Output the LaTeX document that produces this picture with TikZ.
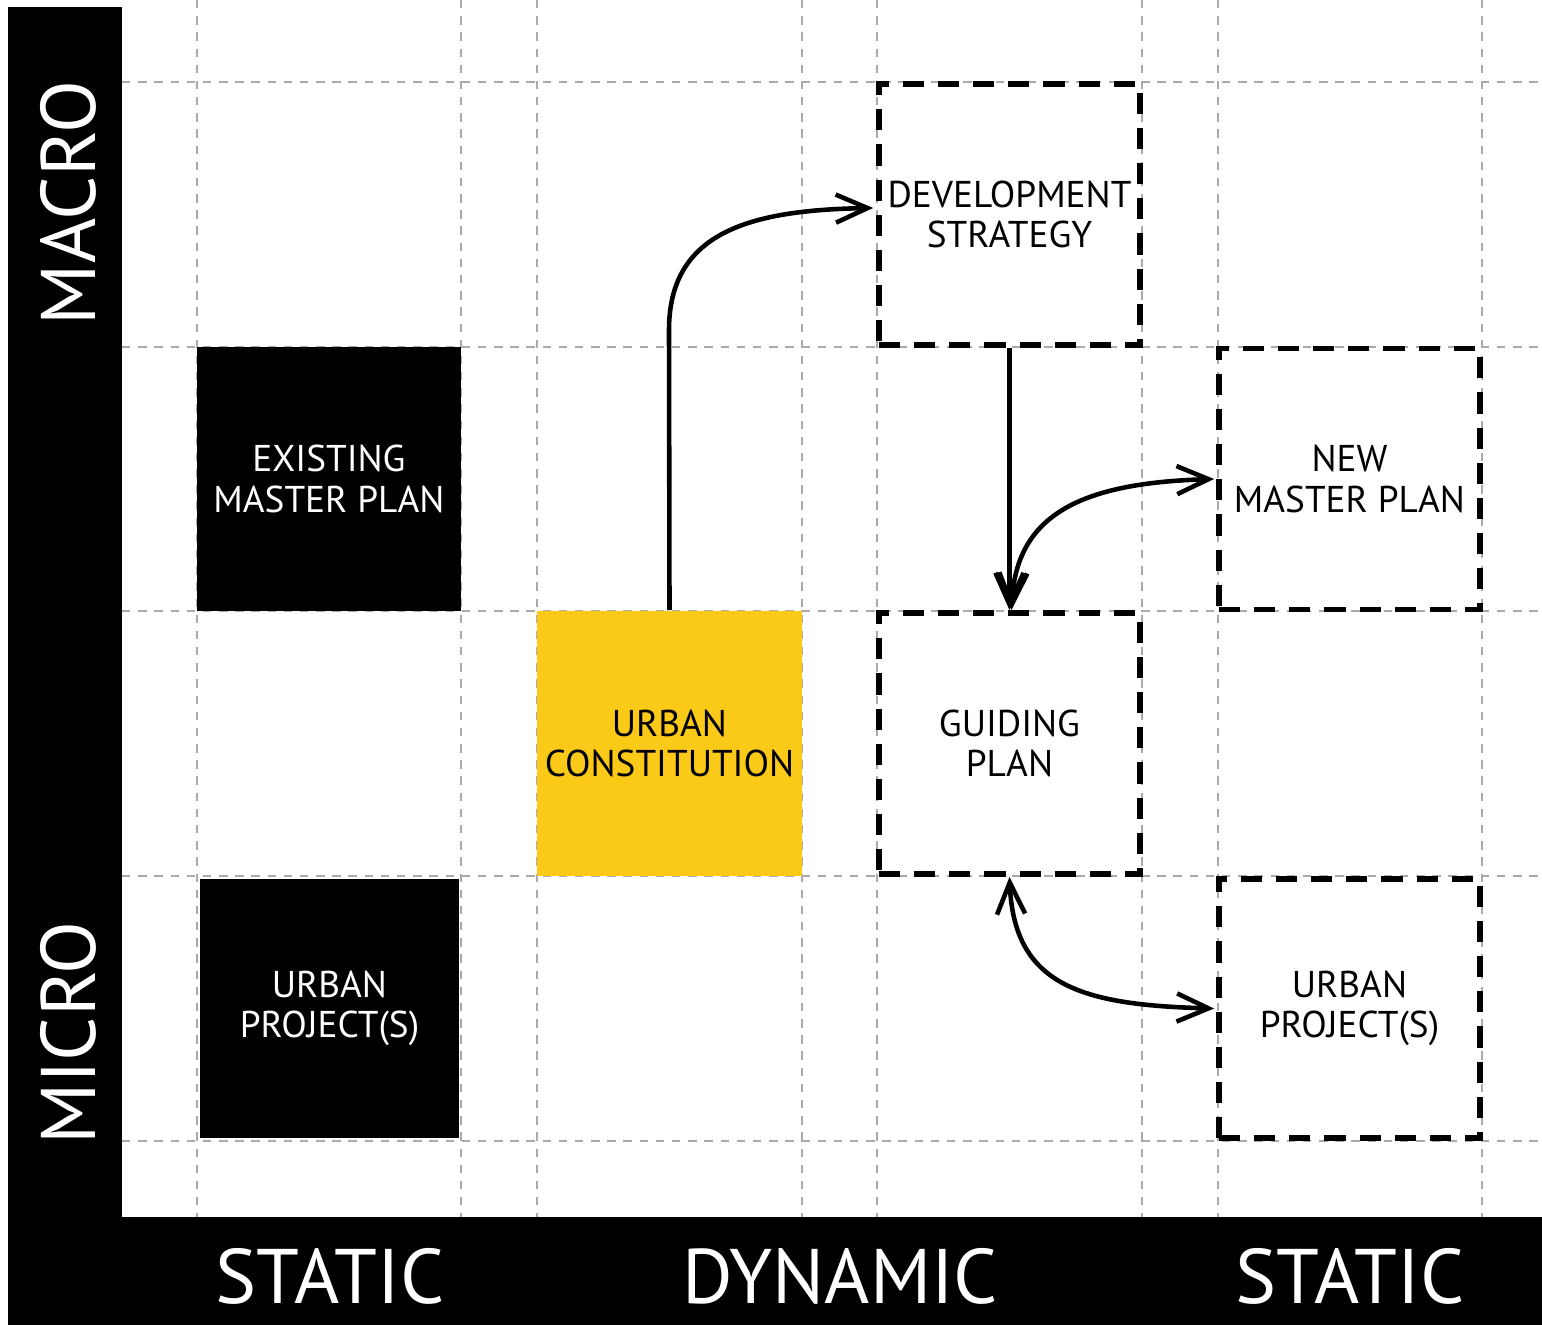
\documentclass[tikz,border=0pt]{standalone}
\usepackage{fontspec}
\setmainfont{PT Sans}
\usetikzlibrary{arrows.meta}
\definecolor{planyellow}{HTML}{FBC918}
\definecolor{gridgray}{HTML}{AAAAAA}

\tikzset{
  gridline/.style={gridgray, line width=0.6pt, dash pattern=on 2.4pt off 2.2pt},
  solidplan/.style={fill=black, text=white, minimum width=2.64cm, minimum height=2.64cm, inner sep=0pt, align=center, font=\fontsize{10.6}{11.4}\selectfont},
  newplan/.style={draw=black, line width=1.6pt, dash pattern=on 6pt off 4pt, minimum width=2.61cm, minimum height=2.61cm, inner sep=0pt, align=center, font=\fontsize{10.6}{11.4}\selectfont},
  barlabel/.style={text=white, inner sep=0pt, font=\fontsize{22}{24}\selectfont},
  link/.style={line width=1.3pt, -{Straight Barb[length=9pt,width=8pt]}},
  twoway/.style={line width=1.3pt, {Straight Barb[length=9pt,width=8pt]}-{Straight Barb[length=9pt,width=8pt]}}
}

\begin{document}
\begin{tikzpicture}[x=0.01cm, y=-0.01cm]
\useasboundingbox (0,0) rectangle (1542,1325);

% frame
\fill[black] (8,7) rectangle (122,1325);
\fill[black] (8,1217) rectangle (1542,1325);

% grid
\draw[gridline] (197,0) -- (197,1217);
\draw[gridline] (461,0) -- (461,1217);
\draw[gridline] (537,0) -- (537,1217);
\draw[gridline] (802,0) -- (802,1217);
\draw[gridline] (877,0) -- (877,1217);
\draw[gridline] (1142,0) -- (1142,1217);
\draw[gridline] (1218,0) -- (1218,1217);
\draw[gridline] (1482,0) -- (1482,1217);
\draw[gridline] (122,82) -- (1542,82);
\draw[gridline] (122,347) -- (1542,347);
\draw[gridline] (122,611) -- (1542,611);
\draw[gridline] (122,876) -- (1542,876);
\draw[gridline] (122,1141) -- (1542,1141);

% axis labels
\node[barlabel, rotate=90] (macro) at (68,203) {MACRO};
\node[barlabel, rotate=90] (micro) at (68,1033) {MICRO};
\node[barlabel] (staticl) at (330,1276) {STATIC};
\node[barlabel] (dynamic) at (840,1276) {DYNAMIC};
\node[barlabel] (staticr) at (1350,1276) {STATIC};

% plans
\node[solidplan] (emp) at (329,479) {EXISTING\\MASTER PLAN};
\node[solidplan, minimum width=2.59cm, minimum height=2.59cm] (upl) at (329.5,1008.5) {URBAN\\PROJECT(S)};
\node[solidplan, fill=planyellow, text=black, minimum width=2.65cm, minimum height=2.65cm] (uc) at (669.5,743.5) {URBAN\\CONSTITUTION};
\node[newplan] (ds) at (1009.5,214.5) {DEVELOPMENT\\STRATEGY};
\node[newplan] (gp) at (1009.5,743.5) {GUIDING\\PLAN};
\node[newplan] (nmp) at (1349.5,479) {NEW\\MASTER PLAN};
\node[newplan, minimum height=2.59cm] (upr) at (1349.5,1008.5) {URBAN\\PROJECT(S)};

% links
\draw[link] (uc.north) -- (669,330) .. controls (669,232) and (750,210) .. ([yshift=0.065cm,xshift=-0.03cm]ds.west);
\draw[link] (ds.south) -- (gp.north);
\draw[twoway] ([xshift=0.02cm]gp.north) .. controls (1016,515) and (1080,483) .. ([xshift=-0.02cm]nmp.west);
\draw[twoway] (gp.south) .. controls (1014,985) and (1080,1005) .. ([xshift=-0.02cm]upr.west);
\end{tikzpicture}
\end{document}
